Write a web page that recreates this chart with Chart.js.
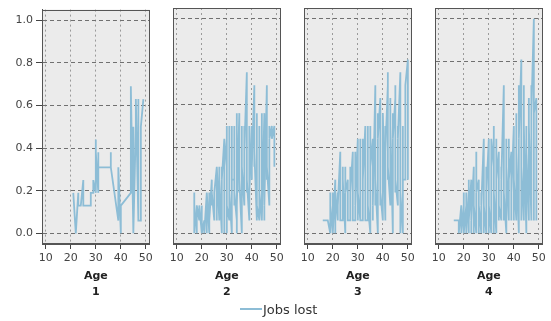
<!DOCTYPE html>
<html><head><meta charset="utf-8">
<script src="https://cdn.jsdelivr.net/npm/chart.js@4.4.1/dist/chart.umd.min.js"></script>
<style>
html,body{margin:0;padding:0;background:#fff;width:551px;height:321px;overflow:hidden;font-family:'DejaVu Sans',sans-serif;}
canvas{position:absolute;top:0;}
#legend{position:absolute;left:240px;top:300px;height:18px;display:flex;align-items:center;font-size:13px;color:#333;white-space:nowrap;}
#legend .sw{display:inline-block;width:22px;height:2px;background:#8dbdd6;margin-right:1px;}
</style></head><body>
<canvas id="c1" width="156" height="300" style="left:0px"></canvas>
<canvas id="c2" width="156" height="300" style="left:131px"></canvas>
<canvas id="c3" width="156" height="300" style="left:262px"></canvas>
<canvas id="c4" width="156" height="300" style="left:393px"></canvas>
<div id="legend"><span class="sw"></span><span id="legText"></span></div>
<script>
const seriesName = 'Jobs lost';
const xTitle = 'Age';
const panelLabels = ['1', '2', '3', '4'];
const xTicks = [10, 20, 30, 40, 50];
const yTicks = [0, 0.2, 0.4, 0.6, 0.8, 1.0];

// Panel 1: ages and the jobs-lost values recorded at each age (in order)
const ages1 = [21,22,23,24,25,26,27,28,29,30,31,33,35,36,39,40,44,45,46,47,48,49];
const jobs1 = [[0.19],[0.0],[0.19,0.13],[0.13],[0.25,0.13],[0.13],[0.13],[0.13,0.19],[0.19,0.25],
  [0.19,0.44,0.25,0.38],[0.19,0.38,0.31],[0.31],[0.31],[0.31,0.38,0.31],[0.06,0.31],[0.0,0.13],
  [0.19,0.69],[0.0,0.5,0.0],[0.5,0.63],[0.06,0.63,0.06],[0.06,0.5],[0.63]];

// Panel 2
const ages2 = [17,18,19,20,21,22,23,24,25,26,27,28,29,30,31,32,33,34,35,36,37,38,39,40,41,42,43,44,45,46,47,48,49];
const jobs2 = [[0.19,0.0],[0.13,0.0,0.13],[0.06,0.13],[0.0,0.13,0.0],[0.06,0.0],[0.19,0.0,0.19],
  [0.0,0.19,0.06],[0.25,0.13,0.19],[0.06,0.19],[0.31,0.06,0.31],[0.06,0.31,0.13,0.25],[0.0,0.31,0.06,0.25],
  [0.44,0.0,0.44,0.06,0.31],[0.44,0.0,0.5,0.13],[0.06,0.5,0.13,0.44,0.19],[0.0,0.5,0.06,0.44,0.25],
  [0.25,0.38,0.13,0.5,0.19],[0.06,0.56,0.0,0.38,0.13],[0.56,0.19,0.44,0.25],[0.0,0.38,0.13,0.5,0.31],
  [0.13,0.44,0.5,0.13,0.38],[0.75,0.19,0.44,0.25],[0.06,0.5,0.13,0.31,0.19],[0.5,0.25,0.44,0.31],
  [0.69,0.31,0.63,0.38],[0.06,0.56,0.06,0.5,0.13],[0.06,0.5,0.06,0.5,0.19],[0.06,0.56,0.13,0.5,0.06],
  [0.56,0.06,0.5,0.13],[0.69,0.25,0.56,0.31],[0.13,0.5,0.25,0.44],[0.5,0.44],[0.5,0.31]];

// Panel 3
const ages3 = [16,17,18,19,20,21,22,23,24,25,26,27,28,29,30,31,32,33,34,35,36,37,38,39,40,41,42,43,44,45,46,47,48,49,50];
const jobs3 = [[0.06],[0.06],[0.06],[0.0,0.19,0.13],[0.0,0.19,0.0],[0.25,0.0,0.19],[0.06,0.19,0.06,0.13],
  [0.38,0.13,0.31,0.06],[0.06,0.31,0.13,0.25],[0.0,0.31,0.06,0.19],[0.25,0.13,0.19,0.06],[0.06,0.31,0.06,0.19],
  [0.38,0.13,0.25,0.06],[0.06,0.38,0.06,0.31,0.13],[0.44,0.06,0.44,0.19],[0.06,0.44,0.13,0.38,0.06],
  [0.06,0.44,0.06,0.25],[0.5,0.13,0.44,0.06],[0.06,0.44,0.25,0.5,0.13],[0.0,0.5,0.06,0.31],
  [0.44,0.06,0.38,0.13],[0.69,0.13,0.56,0.25],[0.0,0.56,0.19,0.44],[0.63,0.13,0.5,0.19],
  [0.06,0.44,0.25,0.56],[0.06,0.5,0.19,0.38],[0.69,0.25,0.75,0.31],[0.13,0.63,0.19,0.5],[0.0,0.56,0.13,0.44],
  [0.63,0.19,0.69,0.25],[0.13,0.5,0.25,0.44],[0.75,0.0,0.63,0.19],[0.0,0.5,0.25],[0.25,0.69],[0.81,0.25]];

// Panel 4
const ages4 = [16,17,18,19,20,21,22,23,24,25,26,27,28,29,30,31,32,33,34,35,36,37,38,39,40,41,42,43,44,45,46,47,48,49];
const jobs4 = [[0.06],[0.06],[0.06,0.0],[0.13,0.0,0.13],[0.0,0.19,0.0],[0.13,0.0,0.19],[0.0,0.25,0.06],
  [0.25,0.0,0.19,0.06],[0.31,0.0,0.25,0.13],[0.0,0.38,0.06,0.19],[0.25,0.0,0.25,0.13],[0.0,0.19,0.06,0.13],
  [0.44,0.0,0.31,0.13],[0.0,0.31,0.06,0.19],[0.44,0.0,0.25,0.13],[0.0,0.44,0.13,0.31],[0.44,0.0,0.5,0.19],
  [0.0,0.44,0.06,0.25],[0.38,0.06,0.25,0.13],[0.06,0.31,0.13,0.25],[0.69,0.06,0.44,0.19],[0.0,0.44,0.19,0.31],
  [0.06,0.44,0.13,0.25],[0.38,0.06,0.31,0.19],[0.5,0.06,0.44,0.25],[0.06,0.56,0.19,0.38],[0.0,0.69,0.25,0.44],
  [0.81,0.06,0.63,0.31],[0.06,0.69,0.19,0.5],[0.0,0.5,0.13,0.38],[0.06,0.63,0.31,0.5],[0.06,0.69,0.25,0.56],
  [1.0,0.06,0.56],[0.63,0.06,0.56]];

const FONT = "'DejaVu Sans', sans-serif";
const LINE_COLOR = '#8dbdd6';
document.getElementById('legText').textContent = seriesName;

const boxPlugin = {
  id: 'box',
  beforeDraw(chart) {
    const {ctx, chartArea: a} = chart;
    ctx.save();
    ctx.fillStyle = '#ebebeb';
    ctx.fillRect(a.left, a.top, a.right - a.left, a.bottom - a.top);
    ctx.restore();
  },
  afterDraw(chart) {
    const {ctx, chartArea: a} = chart;
    ctx.save();
    ctx.strokeStyle = '#555';
    ctx.lineWidth = 1;
    ctx.strokeRect(Math.round(a.left) + 0.5, Math.round(a.top) + 0.5,
                   Math.round(a.right - a.left) - 1, Math.round(a.bottom - a.top) - 1);
    ctx.restore();
  }
};

function toPoints(ages, jobs) {
  const pts = [];
  ages.forEach((a, i) => jobs[i].forEach(v => pts.push({x: a, y: v})));
  return pts;
}

function makePanel(id, ages, jobs, label, showY) {
  new Chart(document.getElementById(id), {
    type: 'line',
    data: {datasets: [{label: seriesName, data: toPoints(ages, jobs), borderColor: LINE_COLOR,
      borderWidth: 1.8, pointRadius: 0, tension: 0, fill: false}]},
    options: {
      responsive: false, animation: false,
      layout: {padding: {top: 8, right: 4, left: 0, bottom: 0}},
      plugins: {legend: {display: false}, tooltip: {enabled: false}},
      scales: {
        x: {
          type: 'linear', min: 8.5, max: 51.5,
          afterBuildTicks: s => { s.ticks = xTicks.map(v => ({value: v})); },
          afterFit: s => { s.height = 56; },
          ticks: {font: {family: FONT, size: 11}, color: '#444', padding: 3, maxRotation: 0, autoSkip: false},
          grid: {color: '#9a9a9a', lineWidth: 1, tickLength: 5, tickColor: '#444', tickBorderDash: [], drawTicks: true},
          border: {display: true, color: '#555', width: 1, dash: [2, 3]},
          title: {display: true, text: [xTitle, label], color: '#222',
            font: {family: FONT, size: 11, weight: 'bold', lineHeight: 16 / 11}, padding: {top: 0, bottom: 0}}
        },
        y: {
          type: 'linear', min: -0.05, max: 1.05,
          afterBuildTicks: s => { s.ticks = yTicks.map(v => ({value: v})); },
          afterFit: s => { s.width = 42; },
          ticks: {display: showY, font: {family: FONT, size: 11}, color: '#444', padding: 3,
            callback: v => Number(v).toFixed(1)},
          grid: {color: '#707070', lineWidth: 1, tickLength: 6, tickColor: '#444', tickBorderDash: [], drawTicks: showY},
          border: {display: true, color: '#555', width: 1, dash: [4, 3]}
        }
      }
    },
    plugins: [boxPlugin]
  });
}

makePanel('c1', ages1, jobs1, panelLabels[0], true);
makePanel('c2', ages2, jobs2, panelLabels[1], false);
makePanel('c3', ages3, jobs3, panelLabels[2], false);
makePanel('c4', ages4, jobs4, panelLabels[3], false);
</script>
</body></html>
